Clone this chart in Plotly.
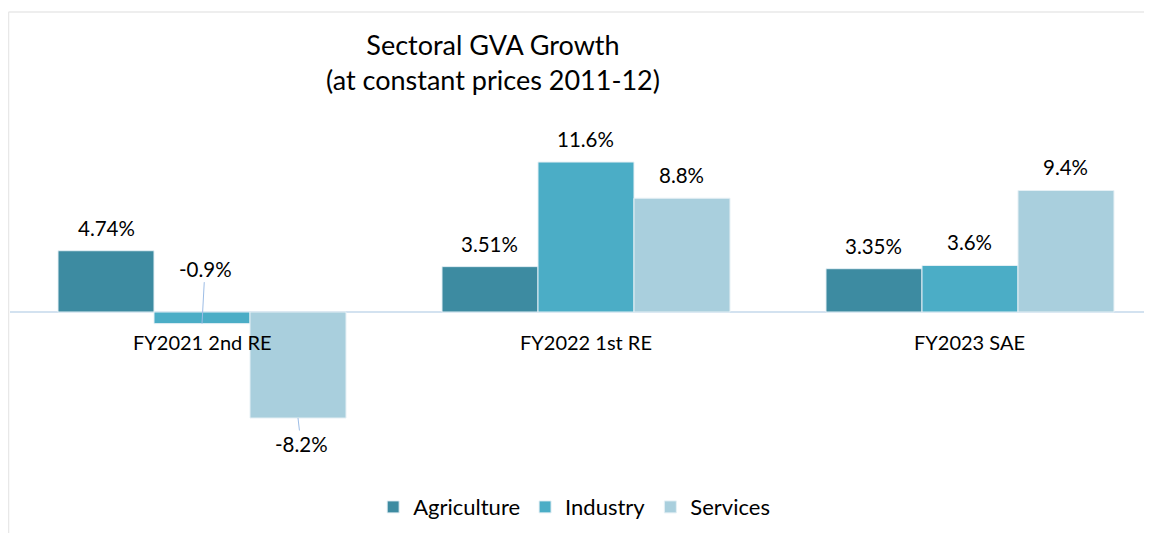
import plotly.graph_objects as go

categories = ["FY2021 2nd RE", "FY2022 1st RE", "FY2023 SAE"]
series_names = ["Agriculture", "Industry", "Services"]
agriculture = [4.74, 3.51, 3.35]
industry = [-0.9, 11.6, 3.6]
services = [-8.2, 8.8, 9.4]
agriculture_labels = ["4.74%", "3.51%", "3.35%"]
industry_labels = ["-0.9%", "11.6%", "3.6%"]
services_labels = ["-8.2%", "8.8%", "9.4%"]

colors = ["#3d8ba1", "#4badc6", "#a9cfdd"]
FONT = "Lato"
LABEL_SIZE = 20.5

series = [agriculture, industry, services]
labels = [agriculture_labels, industry_labels, services_labels]

fig = go.Figure()
for name, vals, col in zip(series_names, series, colors):
    fig.add_trace(go.Bar(
        name=name, x=list(range(len(categories))), y=vals,
        marker=dict(color=col, line=dict(color="#e6f0f5", width=1)),
        hoverinfo="skip",
    ))

annotations = []
offsets = [-0.25, 0.0, 0.25]
for j, (vals, labs) in enumerate(zip(series, labels)):
    for i, (v, lab) in enumerate(zip(vals, labs)):
        xpos = i + offsets[j]
        f = dict(size=LABEL_SIZE, color="black", family=FONT)
        if v >= 0:
            annotations.append(dict(x=xpos, y=v, text=lab, showarrow=False,
                                    yanchor="bottom", yshift=9, font=f))
        elif v > -3:
            annotations.append(dict(x=xpos, y=v, text=lab, showarrow=True,
                                    ax=3, ay=-55, arrowhead=0, arrowwidth=1,
                                    arrowcolor="#9dbde6", standoff=0, font=f))
        else:
            annotations.append(dict(x=xpos, y=v, text=lab, showarrow=True,
                                    ax=3, ay=26, arrowhead=0, arrowwidth=1,
                                    arrowcolor="#9dbde6", standoff=0, font=f))

for i, c in enumerate(categories):
    annotations.append(dict(x=i, y=0, text=c, showarrow=False, yanchor="middle",
                            yshift=-30, font=dict(size=20, color="black", family=FONT)))

fig.update_layout(
    width=1152, height=533,
    margin=dict(l=2, r=8, t=112, b=71),
    paper_bgcolor="white", plot_bgcolor="white",
    barmode="group", bargap=0.25, bargroupgap=0,
    title=dict(text="Sectoral GVA Growth<br>(at constant prices 2011-12)",
               x=0.421, xanchor="center", y=0.912, yanchor="top",
               font=dict(size=27, color="black", family=FONT)),
    xaxis=dict(range=[-0.5, 2.474], showticklabels=False, showgrid=False,
               zeroline=False, showline=False, ticks=""),
    yaxis=dict(range=[-12.22, 14.85], showticklabels=False, showgrid=False,
               zeroline=True, zerolinecolor="#d3e2f0", zerolinewidth=2,
               showline=False, ticks=""),
    legend=dict(orientation="h", x=0.494, xanchor="center", y=-0.106,
                yanchor="middle", font=dict(size=22, color="black", family=FONT),
                itemwidth=30, traceorder="normal"),
    annotations=annotations,
    shapes=[
        dict(type="line", xref="paper", yref="paper", x0=-0.0013, x1=1.01,
             y0=1.3086, y1=1.3086, line=dict(color="#e8e8e8", width=1.5)),
        dict(type="line", xref="paper", yref="paper", x0=-0.0013, x1=-0.0013,
             y0=1.3086, y1=-0.25, line=dict(color="#e8e8e8", width=1.5)),
    ],
    showlegend=True,
)

fig.write_html("out.html")
